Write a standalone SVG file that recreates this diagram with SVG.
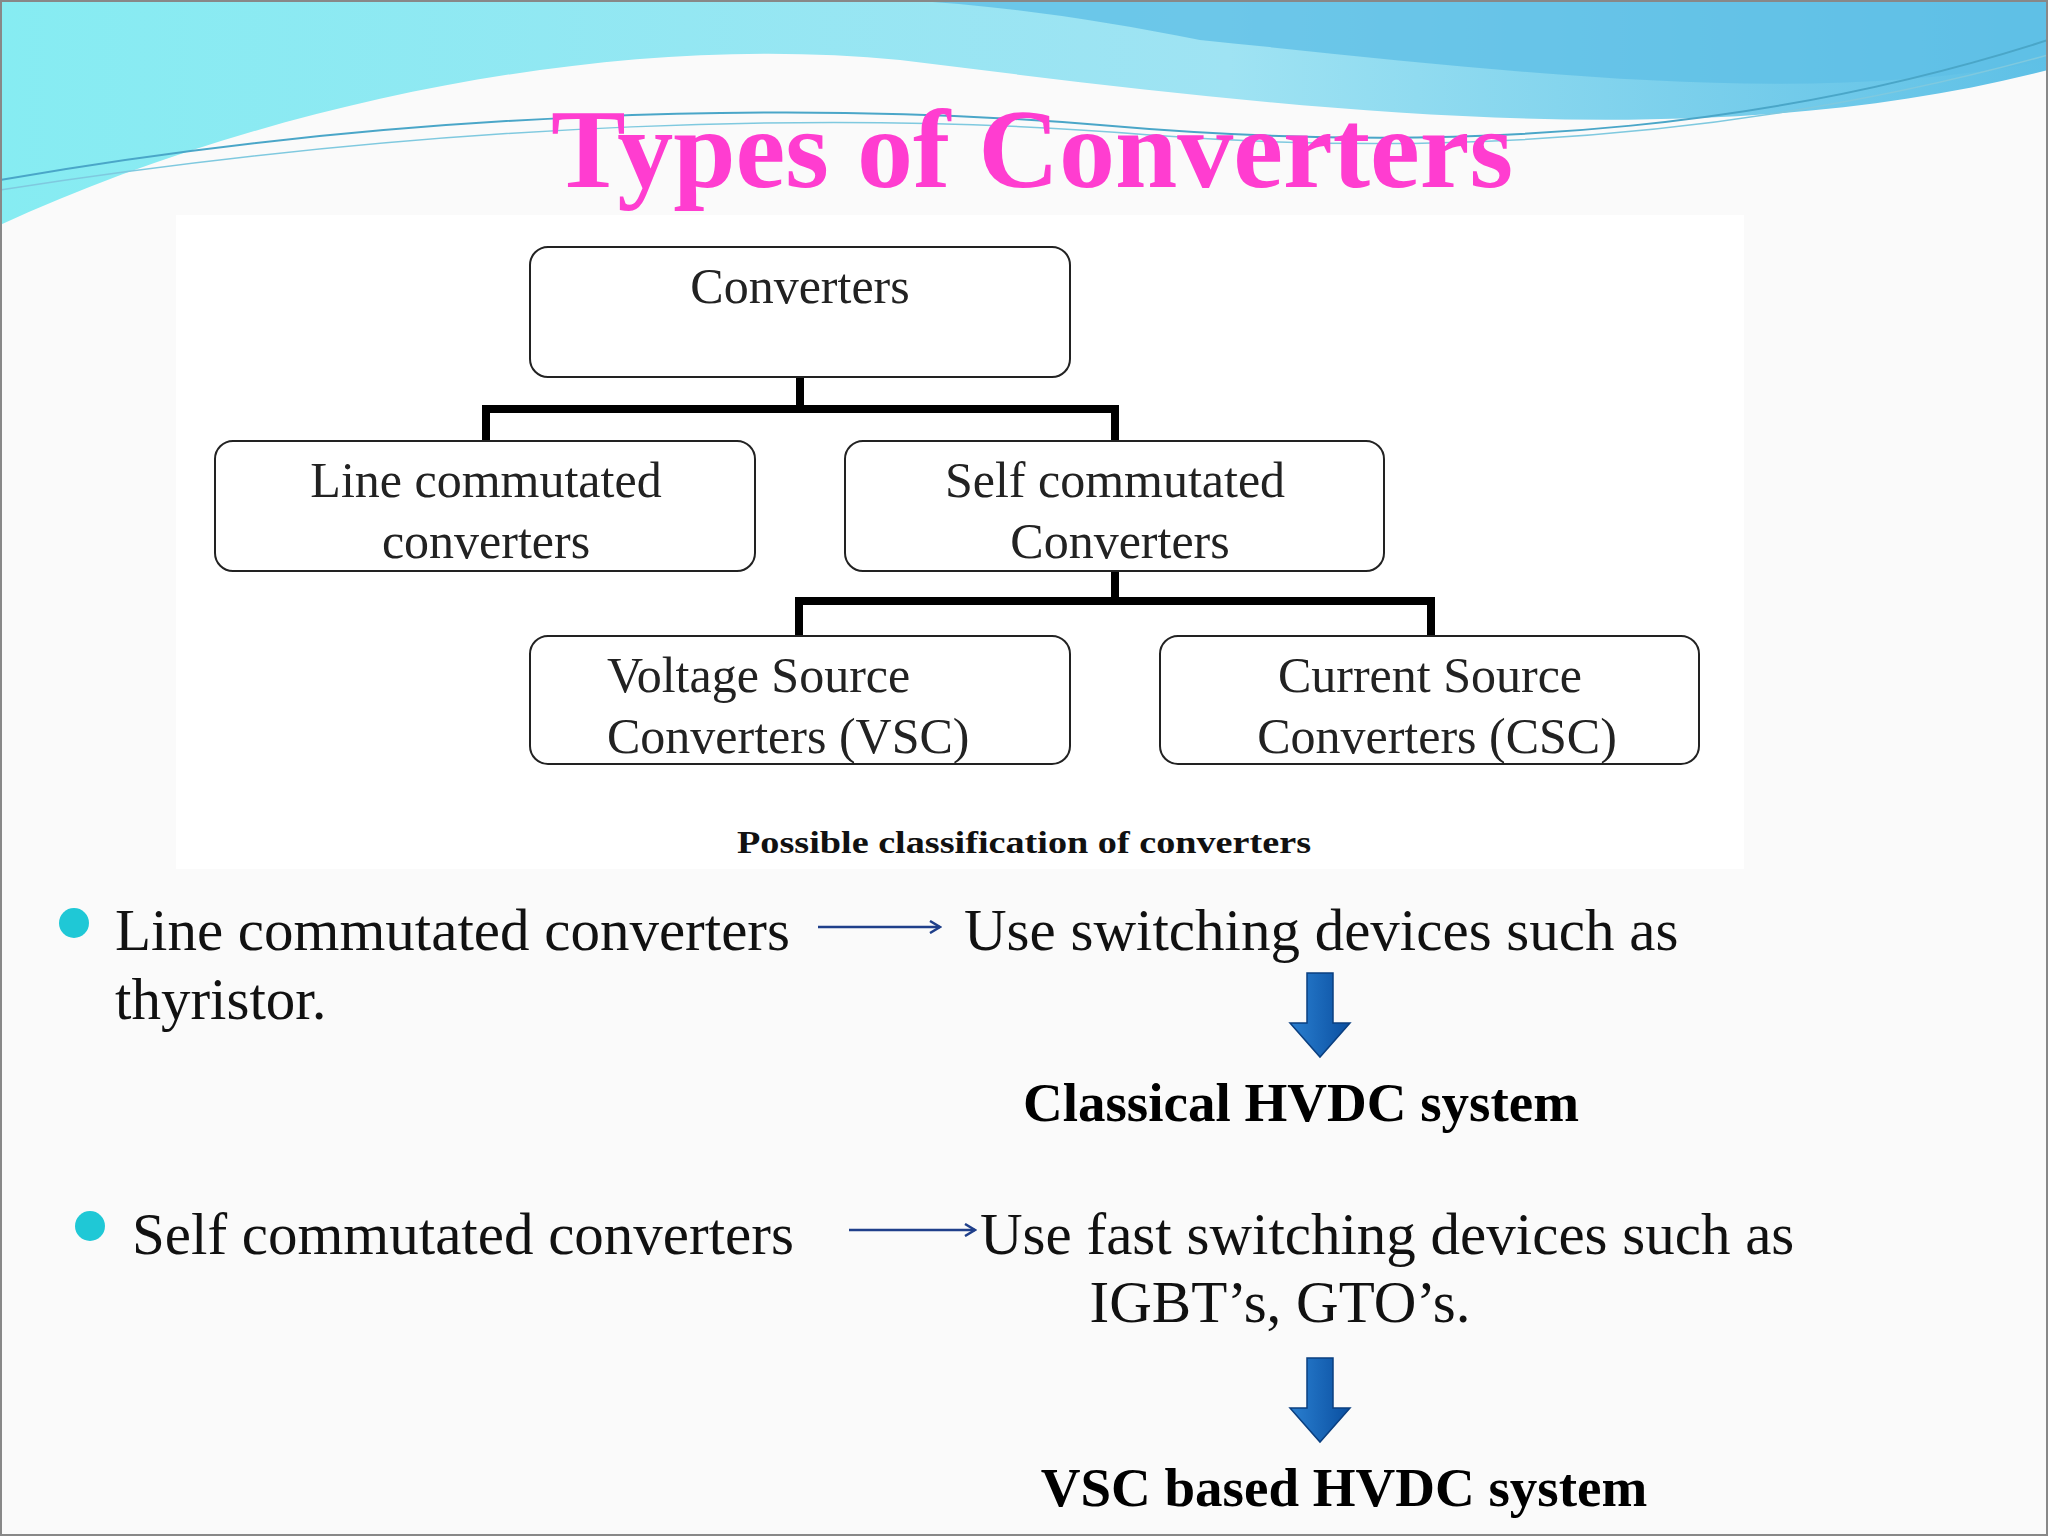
<svg xmlns="http://www.w3.org/2000/svg" width="2048" height="1536" viewBox="0 0 2048 1536">
<defs>
<linearGradient id="hdr" x1="0" y1="0" x2="1" y2="0">
<stop offset="0" stop-color="#86ecf2"/><stop offset="0.6" stop-color="#9fe3f3"/><stop offset="1" stop-color="#5ec0e6"/>
</linearGradient>
<linearGradient id="blk" x1="0" y1="0" x2="1" y2="0">
<stop offset="0" stop-color="#2a7fd0"/><stop offset="1" stop-color="#0a4fa0"/>
</linearGradient>
<marker id="ah" markerWidth="14" markerHeight="14" refX="12" refY="7" orient="auto" markerUnits="userSpaceOnUse">
<path d="M2,1 L12,7 L2,13" fill="none" stroke="#1f3f8a" stroke-width="2.5"/>
</marker>
<style>
.box{fill:#fff;stroke:#222;stroke-width:2}
.bt{font-family:"Liberation Serif",serif;font-size:50px;fill:#222}
.conn{fill:none;stroke:#000;stroke-width:8}
.tx{font-family:"Liberation Serif",serif;font-size:59px;fill:#111}
.bd{font-family:"Liberation Serif",serif;font-size:55px;font-weight:bold;fill:#000}
.ar{stroke:#1f3f8a;stroke-width:2.5;fill:none;marker-end:url(#ah)}
</style>
</defs>
<rect width="2048" height="1536" fill="#fafafa"/>
<path d="M0,0 H2048 V70 C1700,160 1300,110 900,60 C600,30 250,110 0,225 Z" fill="url(#hdr)"/>
<path d="M900,0 H2048 V60 C1800,110 1500,70 1200,40 C1100,20 1000,5 900,0 Z" fill="#5fbfe6" opacity="0.8"/>
<path d="M0,180 C400,110 800,100 1100,125 C1500,160 1800,120 2048,40" fill="none" stroke="#4aa6c8" stroke-width="2"/>
<path d="M0,190 C450,120 850,110 1150,135 C1550,165 1850,110 2048,55" fill="none" stroke="#7fc9df" stroke-width="1.5"/>
<text x="1032" y="187" text-anchor="middle" font-family="Liberation Serif,serif" font-size="112" font-weight="bold" fill="#ff3dd0">Types of Converters</text>
<rect x="176" y="215" width="1568" height="654" fill="#fff"/>
<g id="connectors">
<path class="conn" d="M800,377 V409 M486,441 V409 H1115 V441"/>
<path class="conn" d="M1115,571 V601 M799,636 V601 H1431 V636"/>
</g>
<g id="n_converters"><rect class="box" x="530" y="247" width="540" height="130" rx="18"/><text class="bt" x="800" y="303" text-anchor="middle">Converters</text></g>
<g id="n_line"><rect class="box" x="215" y="441" width="540" height="130" rx="18"/><text class="bt" x="486" y="497" text-anchor="middle">Line commutated</text><text class="bt" x="486" y="558" text-anchor="middle">converters</text></g>
<g id="n_self"><rect class="box" x="845" y="441" width="539" height="130" rx="18"/><text class="bt" x="1115" y="497" text-anchor="middle">Self commutated</text><text class="bt" x="1120" y="558" text-anchor="middle">Converters</text></g>
<g id="n_vsc"><rect class="box" x="530" y="636" width="540" height="128" rx="18"/><text class="bt" x="607" y="692">Voltage Source</text><text class="bt" x="607" y="753">Converters (VSC)</text></g>
<g id="n_csc"><rect class="box" x="1160" y="636" width="539" height="128" rx="18"/><text class="bt" x="1430" y="692" text-anchor="middle">Current Source</text><text class="bt" x="1437" y="753" text-anchor="middle">Converters (CSC)</text></g>
<text x="737" y="853" textLength="574" lengthAdjust="spacingAndGlyphs" font-family="Liberation Serif,serif" font-size="32" font-weight="bold" fill="#111">Possible classification of converters</text>
<circle cx="74" cy="923" r="15" fill="#1fc8d6"/>
<text class="tx" x="115" y="950">Line commutated converters</text>
<text class="tx" x="115" y="1019">thyristor.</text>
<line class="ar" x1="818" y1="927" x2="940" y2="927"/>
<text class="tx" x="964" y="950">Use switching devices such as</text>
<path d="M1307,973 H1333 V1023 H1350 L1320,1057 L1290,1023 H1307 Z" fill="url(#blk)" stroke="#0a3f80" stroke-width="1.5"/>
<text class="bd" x="1301" y="1121" text-anchor="middle">Classical HVDC system</text>
<circle cx="90" cy="1226" r="15" fill="#1fc8d6"/>
<text class="tx" x="132" y="1254">Self commutated converters</text>
<line class="ar" x1="849" y1="1230" x2="975" y2="1230"/>
<text class="tx" x="980" y="1254">Use fast switching devices such as</text>
<text class="tx" x="1280" y="1322" text-anchor="middle">IGBT’s, GTO’s.</text>
<path d="M1307,1358 H1333 V1408 H1350 L1320,1442 L1290,1408 H1307 Z" fill="url(#blk)" stroke="#0a3f80" stroke-width="1.5"/>
<text class="bd" x="1344" y="1506" text-anchor="middle">VSC based HVDC system</text>
<rect x="1" y="1" width="2046" height="1534" fill="none" stroke="#888" stroke-width="2"/>
</svg>
